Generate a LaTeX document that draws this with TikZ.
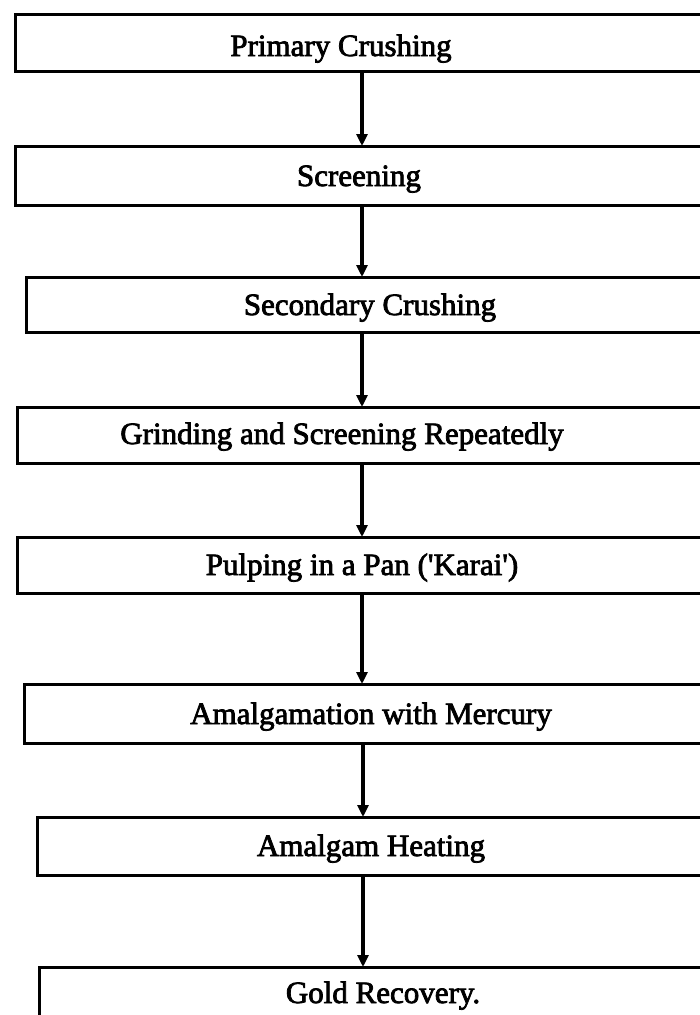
\documentclass[tikz,border=0pt]{standalone}
\usepackage{fontspec}
\newfontfamily\lblfont{Liberation Serif}[FakeBold=2.5]
\usetikzlibrary{arrows.meta}
\begin{document}
\begin{tikzpicture}[x=1pt,y=-1pt,
  stepbox/.style={draw,line width=3pt,inner sep=0pt,outer sep=0pt,anchor=north west},
  lbl/.style={font=\lblfont\fontsize{31}{34}\selectfont,inner sep=0pt,anchor=base},
  arr/.style={line width=3.4pt,-{Triangle[length=12pt,width=11pt]}}]
\useasboundingbox (0,0) rectangle (700,1015);
\fill[white] (0,0) rectangle (700,1015);
\clip (0,0) rectangle (700,1015);
% boxes: left, top, bottom
\node[stepbox,minimum width=705pt,minimum height=57pt] (b1) at (15,14) {};
\node[stepbox,minimum width=705pt,minimum height=59pt] (b2) at (15,146) {};
\node[stepbox,minimum width=694pt,minimum height=55pt] (b3) at (26,277) {};
\node[stepbox,minimum width=703pt,minimum height=56pt] (b4) at (17,407) {};
\node[stepbox,minimum width=703pt,minimum height=56pt] (b5) at (17,537) {};
\node[stepbox,minimum width=696pt,minimum height=59pt] (b6) at (24,684) {};
\node[stepbox,minimum width=683pt,minimum height=58pt] (b7) at (37,817) {};
\node[stepbox,minimum width=681pt,minimum height=58pt] (b8) at (39,967) {};
% labels
\node[lbl] (t1) at (341,56) {Primary Crushing};
\node[lbl] (t2) at (359,186) {Screening};
\node[lbl] (t3) at (370,315) {Secondary Crushing};
\node[lbl] (t4) at (342,444) {Grinding and Screening Repeatedly};
\node[lbl] (t5) at (362,575) {Pulping in a Pan ('Karai')};
\node[lbl] (t6) at (371,724) {Amalgamation with Mercury};
\node[lbl] (t7) at (371,856) {Amalgam Heating};
\node[lbl] (t8) at (383,1003) {Gold Recovery.};
% connectors
\coordinate (ax) at (362,0);
\coordinate (ay) at (363,0);
\draw[arr] (b1.south -| ax) -- (b2.north -| ax);
\draw[arr] (b2.south -| ax) -- (b3.north -| ax);
\draw[arr] (b3.south -| ax) -- (b4.north -| ax);
\draw[arr] (b4.south -| ax) -- (b5.north -| ax);
\draw[arr] (b5.south -| ax) -- (b6.north -| ax);
\draw[arr] (b6.south -| ay) -- (b7.north -| ay);
\draw[arr] (b7.south -| ay) -- (b8.north -| ay);
\end{tikzpicture}
\end{document}
